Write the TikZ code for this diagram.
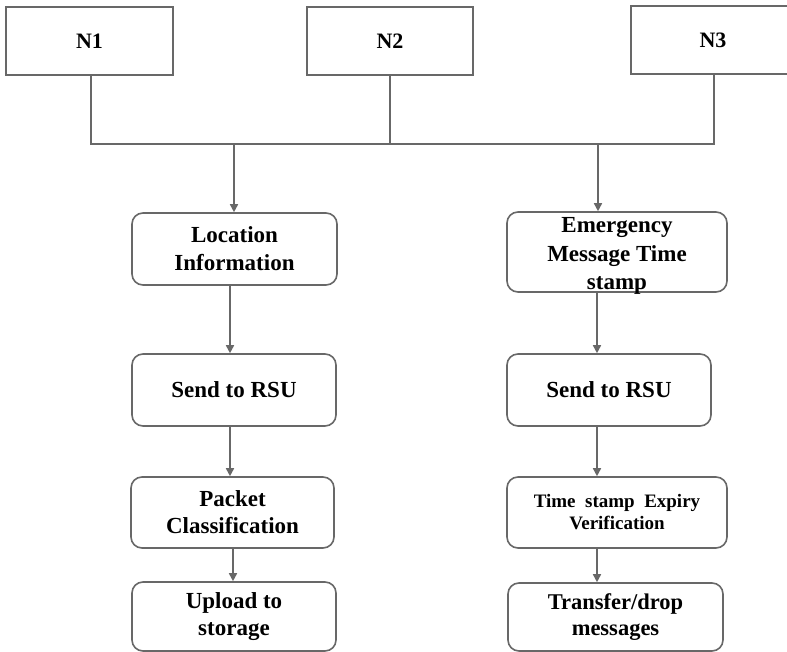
\documentclass[tikz,border=0pt]{standalone}
\usepackage{fontspec}
\setmainfont{Liberation Serif}
\usetikzlibrary{arrows.meta}
\definecolor{linegray}{HTML}{686868}
\begin{document}
\begin{tikzpicture}[x=1pt,y=-1pt,
  every node/.style={font=\bfseries},
  topbox/.style={draw=linegray,line width=1.8pt,minimum height=68pt,inner sep=0pt,
    font=\fontsize{22}{26}\selectfont\bfseries},
  flowbox/.style={draw=linegray,line width=1.6pt,rounded corners=11pt,inner sep=0pt,
    align=center,font=\fontsize{23}{28}\selectfont\bfseries},
  wire/.style={draw=linegray,line width=1.6pt},
  arr/.style={wire,-{Triangle[length=8pt,width=8pt]}}]
\useasboundingbox (0,0) rectangle (787,652);
\fill[white] (0,0) rectangle (787,652);

% source nodes
\node[topbox,minimum width=167pt] (n1) at (89.5,41) {N1};
\node[topbox,minimum width=166pt] (n2) at (390,41) {N2};
\node[topbox,minimum width=164pt] (n3) at (713,40) {N3};

% left column
\node[flowbox,minimum width=205pt,minimum height=72pt] (loc) at (234.5,249) {Location\\Information};
\node[flowbox,minimum width=204pt,minimum height=72pt] (rsuL) at (234,390) {Send to RSU};
\node[flowbox,minimum width=203pt,minimum height=71pt,
      font=\fontsize{23}{27}\selectfont\bfseries] (pkt) at (232.5,512.5) {Packet\\Classification};
\node[flowbox,minimum width=204pt,minimum height=69pt,
      font=\fontsize{23}{27}\selectfont\bfseries] (upl) at (234,616.5) {Upload to\\storage};

% right column: the time-stamp box, its text set lower so the last line sits on the border
\node[flowbox,minimum width=220pt,minimum height=80pt] (emg) at (617,252) {};
\node[align=center,inner sep=0pt,font=\fontsize{23}{28.5}\selectfont\bfseries] (emgtext) at (617,256)
  {Emergency\\Message Time\\stamp};
\node[flowbox,minimum width=204pt,minimum height=72pt] (rsuR) at (609,390) {Send to RSU};
\node[flowbox,minimum width=220pt,minimum height=71pt,
      font=\fontsize{19}{22}\selectfont\bfseries] (tse) at (617,512.5) {Time\ \ stamp\ \ Expiry\\Verification};
\node[flowbox,minimum width=215pt,minimum height=68pt,
      font=\fontsize{22.5}{26}\selectfont\bfseries] (trd) at (615.5,617) {Transfer/drop\\messages};

% bus joining the sources
\coordinate (bus1) at (91,144);
\coordinate (bus3) at (714,144);
\coordinate (tapL) at (234,144);
\coordinate (tapR) at (598,144);
\draw[wire] (n1.south -| bus1) -- (bus1) -- (bus3) -- (n3.south -| bus3);
\draw[wire] (n2.south) -- (n2.south |- bus1);

% flow arrows
\draw[arr] (tapL) -- (tapL |- loc.north);
\draw[arr] (tapR) -- (tapR |- emg.north);
\draw[arr] (loc.south -| 230,0) -- (rsuL.north -| 230,0);
\draw[arr] (rsuL.south -| 230,0) -- (pkt.north -| 230,0);
\draw[arr] (pkt.south -| 233,0) -- (upl.north -| 233,0);
\draw[arr] (emg.south -| 597,0) -- (rsuR.north -| 597,0);
\draw[arr] (rsuR.south -| 597,0) -- (tse.north -| 597,0);
\draw[arr] (tse.south -| 597,0) -- (trd.north -| 597,0);
\end{tikzpicture}
\end{document}
